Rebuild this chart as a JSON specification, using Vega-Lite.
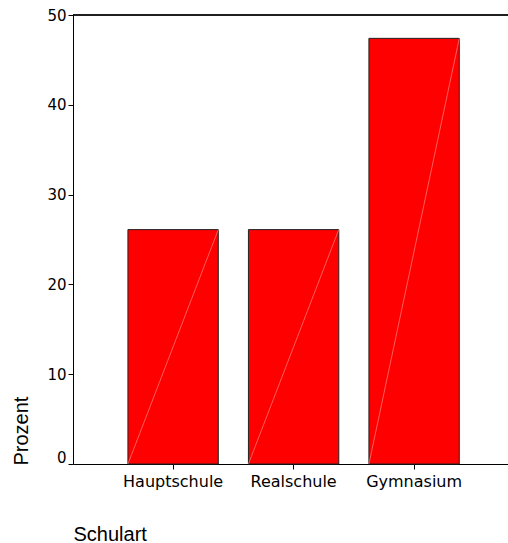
{
  "$schema": "https://vega.github.io/schema/vega-lite/v6.json",
  "width": 435,
  "height": 449,
  "autosize": "none",
  "padding": {"left": 73, "top": 15, "right": 0, "bottom": 79},
  "background": "white",
  "config": {"view": {"stroke": null}},
  "data": {"values": [
    {"Schulart": "Hauptschule", "Prozent": 26.1},
    {"Schulart": "Realschule", "Prozent": 26.1},
    {"Schulart": "Gymnasium", "Prozent": 47.4}
  ]},
  "layer": [
    {
      "mark": {"type": "bar", "color": "#ff0000", "stroke": "#222222", "strokeWidth": 1},
      "encoding": {
        "x": {
          "field": "Schulart", "type": "nominal", "sort": null,
          "scale": {"paddingInner": 0.25, "paddingOuter": 0.43, "align": 0.53},
          "axis": {
            "title": "Schulart", "labelAngle": 0,
            "labelFont": "DejaVu Sans", "labelFontSize": 16, "labelColor": "black",
            "labelBaseline": "alphabetic", "labelPadding": 17,
            "tickSize": 5, "tickColor": "black", "domainColor": "black",
            "titleFont": "Liberation Sans", "titleFontSize": 20, "titleFontWeight": "normal", "titleColor": "black",
            "titleAnchor": "start", "titleAlign": "left", "titleBaseline": "alphabetic",
            "titleX": 0, "titleY": 76
          }
        },
        "y": {
          "field": "Prozent", "type": "quantitative",
          "scale": {"domain": [0, 50], "nice": false},
          "axis": {
            "title": "Prozent", "values": [0, 10, 20, 30, 40, 50], "grid": false,
            "labelFont": "DejaVu Sans", "labelFontSize": 15, "labelColor": "black",
            "labelPadding": 2,
            "labelOffset": {"condition": {"test": "datum.value == 0", "value": -7}, "value": 0},
            "tickSize": 5, "tickColor": "black", "domainColor": "black",
            "titleFont": "Liberation Sans", "titleFontSize": 20, "titleFontWeight": "normal", "titleColor": "black",
            "titleAngle": -90, "titleAnchor": "start", "titleAlign": "left", "titleBaseline": "alphabetic",
            "titleX": -46, "titleY": 450
          }
        }
      }
    },
    {
      "mark": {"type": "rule", "color": "#ff9a9a", "strokeWidth": 0.6, "x2Offset": {"expr": "-bandwidth('x')/2"}},
      "encoding": {
        "x": {"field": "Schulart", "type": "nominal", "sort": null, "bandPosition": 1},
        "x2": {"field": "Schulart"},
        "y": {"field": "Prozent", "type": "quantitative"},
        "y2": {"datum": 0}
      }
    },
    {
      "mark": {"type": "rule", "color": "black", "strokeWidth": 1},
      "encoding": {"y": {"datum": 50}}
    }
  ]
}
